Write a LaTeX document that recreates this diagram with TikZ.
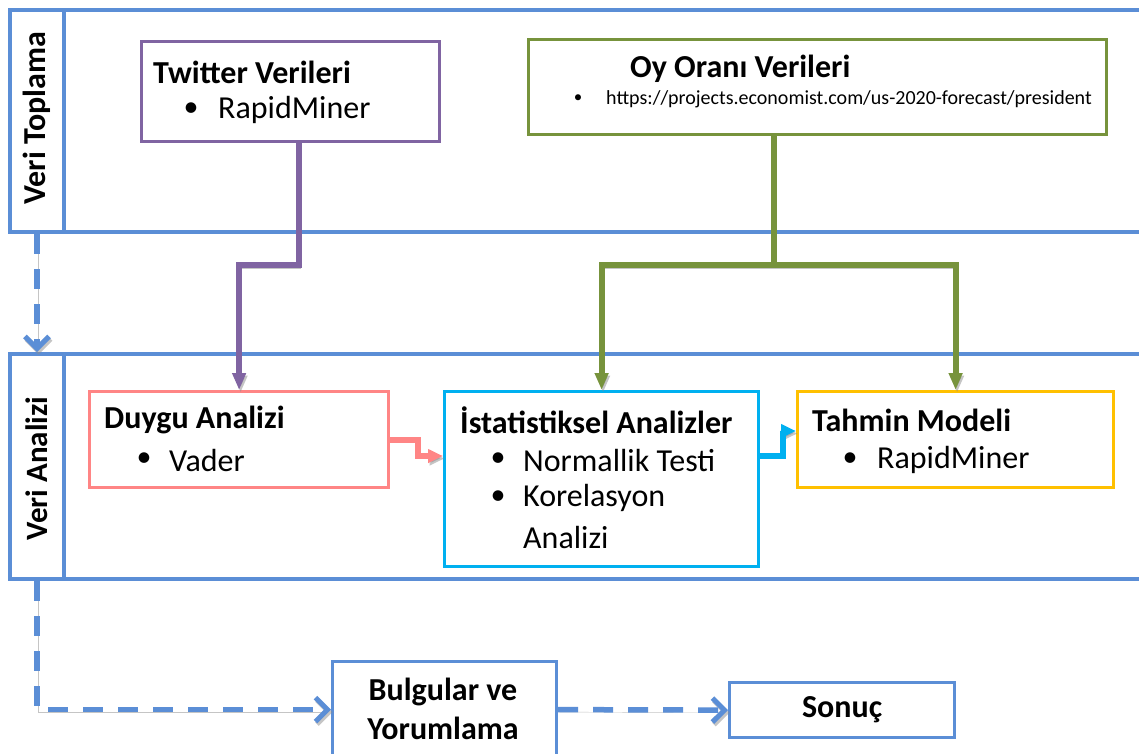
\documentclass[tikz,border=0pt]{standalone}
\usepackage{fontspec}
\setmainfont{Carlito}
\usetikzlibrary{arrows.meta,calc}
\definecolor{frameblue}{HTML}{5B8ED6}
\definecolor{purp}{HTML}{8064A2}
\definecolor{grn}{HTML}{77933C}
\definecolor{pnk}{HTML}{FF8585}
\definecolor{cyn}{HTML}{00B0F0}
\definecolor{ylw}{HTML}{FFC000}
\tikzset{
  frame/.style={draw=frameblue,line width=4pt,anchor=north west,inner sep=0pt},
  box/.style={line width=3.2pt,anchor=north west,inner sep=0pt,fill=white},
  shad/.style={preaction={draw=black!45,opacity=0.5,transform canvas={shift={(1.5pt,-2.5pt)}}}},
  conn/.style={line width=6pt,shad},
  tipA/.style={-{Triangle[length=17pt,width=13pt]}},
  dashconn/.style={draw=frameblue,line width=5.5pt,dash pattern=on 20pt off 15pt,shad,-{Straight Barb[length=12pt,width=24pt,line width=5pt]}},
  ttl/.style={font=\bfseries\fontsize{32}{38}\selectfont,anchor=west,inner sep=0pt},
  itm/.style={font=\fontsize{32}{38}\selectfont,anchor=west,inner sep=0pt},
  bul/.style={font=\fontsize{30}{38}\selectfont,inner sep=0pt},
}
\begin{document}
\begin{tikzpicture}[x=1pt,y=-1pt]
\useasboundingbox (0,0) rectangle (1139,753);
\fill[white] (0,0) rectangle (1139,753);
% frames
\node[frame,minimum width=1150pt,minimum height=222pt] (f1) at (8,8) {};
\node[frame,minimum width=54pt,minimum height=222pt] (l1) at (8,8) {};
\node[frame,minimum width=1150pt,minimum height=225pt] (f2) at (8,352) {};
\node[frame,minimum width=54pt,minimum height=225pt] (l2) at (8,352) {};
\node[rotate=90,font=\bfseries\fontsize{32}{38}\selectfont] (t1) at ([yshift=3pt]l1.center) {Veri Toplama};
\node[rotate=90,font=\bfseries\fontsize{31}{38}\selectfont] (t2) at ([yshift=-2pt]l2.center) {Veri Analizi};
% boxes
\node[box,draw=purp,minimum width=298pt,minimum height=100pt] (tw) at (140,40) {};
\node[box,draw=grn,minimum width=578pt,minimum height=95pt] (oy) at (527,38) {};
\node[box,draw=pnk,minimum width=299pt,minimum height=96pt] (duy) at (88,390) {};
\node[box,draw=cyn,minimum width=314pt,minimum height=175pt] (ist) at (443,390) {};
\node[box,draw=ylw,minimum width=316pt,minimum height=96pt] (tah) at (796,390) {};
\node[box,draw=frameblue,minimum width=224pt,minimum height=96pt] (bulg) at (331,660) {};
\node[box,draw=frameblue,minimum width=225pt,minimum height=55pt] (son) at (728,681) {};
% texts
\node[ttl] (tw1) at (153,72) {Twitter Verileri};
\node[bul] (tw2) at (191,110) {•};
\node[itm] (tw3) at (218,110) {RapidMiner};
\node[ttl] (oy1) at (630,69) {Oy Oranı Verileri};
\node[bul,font=\fontsize{17}{20}\selectfont] (oy2) at (578,99) {•};
\node[itm,font=\fontsize{20}{22}\selectfont] (oy3) at (606,99) {https://projects.economist.com/us-2020-forecast/president};
\node[ttl] (d1) at (104,420) {Duygu Analizi};
\node[bul] (d2) at (144,460) {•};
\node[itm] (d3) at (169,460) {Vader};
\node[ttl] (i1) at (460,420) {İstatistiksel Analizler};
\node[bul] (i2) at (498,460) {•};
\node[itm] (i3) at (523,460) {Normallik Testi};
\node[bul] (i4) at (498,498) {•};
\node[itm] (i5) at (523,498) {Korelasyon};
\node[itm] (i6) at (523,537) {Analizi};
\node[ttl] (ta1) at (812,420) {Tahmin Modeli};
\node[bul] (ta2) at (850,460) {•};
\node[itm] (ta3) at (877,460) {RapidMiner};
\node[font=\bfseries\fontsize{32}{39}\selectfont,align=center] (bu1) at (443,709) {Bulgular ve\\Yorumlama};
\node[font=\bfseries\fontsize{32}{38}\selectfont] (so1) at (son.center) {Sonuç};
% connectors
\coordinate (pj) at ($(tw.south)+(8,122)$);
\draw[conn,draw=purp,tipA] ([xshift=8pt]tw.south) -- (pj) -| (duy.north);
\coordinate (gj) at ($(oy.south)+(-44,129)$);
\draw[conn,draw=grn] ([xshift=-44pt]oy.south) -- (gj);
\draw[conn,draw=grn,tipA] (gj) -| (ist.north);
\draw[conn,draw=grn,tipA] (gj) -| (tah.north);
\draw[conn,draw=pnk,-{Triangle[length=15pt,width=13pt]}] (duy.east) -- ++(28,0) |- ($(ist.north west)+(0,66)$);
\draw[conn,draw=cyn,-{Triangle[length=15pt,width=13pt]}] ($(ist.north east)+(0,66)$) -- ++(23,0) |- ($(tah.north west)+(0,41)$);
\draw[dashconn] (l1.south) -- (l2.north);
\draw[dashconn] (l2.south) |- (bulg.west);
\draw[dashconn] (bulg.east) -- (son.west);
\end{tikzpicture}
\end{document}
